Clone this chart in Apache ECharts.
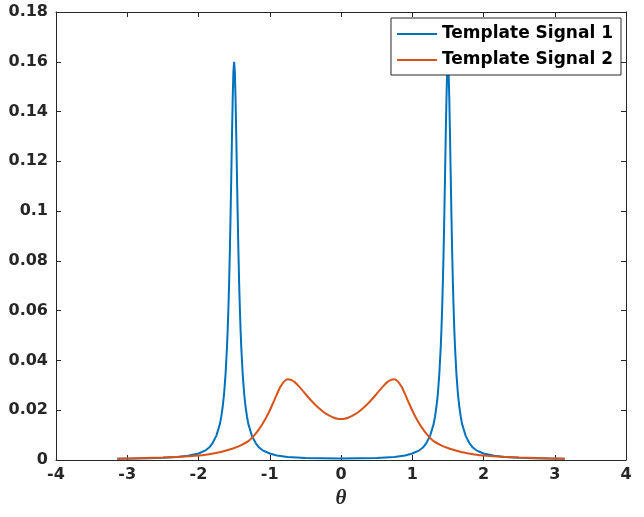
<!DOCTYPE html>
<html>
<head>
<meta charset="utf-8">
<script src="https://cdn.jsdelivr.net/npm/echarts@6/dist/echarts.min.js"></script>
<style>html,body{margin:0;padding:0;background:#fff}#c{width:644px;height:517px}</style>
</head>
<body>
<div id="c"></div>
<script>
var seriesNames = ['Template Signal 1', 'Template Signal 2'];
var xTicks = [-4, -3, -2, -1, 0, 1, 2, 3, 4];
var yTickLabels = ['0', '0.02', '0.04', '0.06', '0.08', '0.1', '0.12', '0.14', '0.16', '0.18'];

var blueX = [-3.14,-2.9,-2.7,-2.5,-2.3,-2.15,-2.0,-1.9,-1.85,-1.8,-1.75,-1.7,-1.68,-1.66,-1.64,-1.62,-1.6,-1.59,-1.58,-1.57,-1.56,-1.55,-1.54,-1.53,-1.52,-1.51,-1.5,-1.49,-1.48,-1.47,-1.46,-1.45,-1.44,-1.43,-1.42,-1.41,-1.4,-1.38,-1.36,-1.34,-1.32,-1.3,-1.25,-1.2,-1.15,-1.1,-1.0,-0.9,-0.75,-0.5,-0.25,0,
  0.25,0.5,0.75,0.9,1.0,1.1,1.15,1.2,1.25,1.3,1.32,1.34,1.36,1.38,1.4,1.41,1.42,1.43,1.44,1.45,1.46,1.47,1.48,1.49,1.5,1.51,1.52,1.53,1.54,1.55,1.56,1.57,1.58,1.59,1.6,1.62,1.64,1.66,1.68,1.7,1.75,1.8,1.85,1.9,2.0,2.15,2.3,2.5,2.7,2.9,3.14];
var blueY = [0.0005,0.0006,0.0007,0.0009,0.0012,0.0017,0.0026,0.0039,0.0050,0.0069,0.0097,0.0144,0.0175,0.0215,0.0269,0.0346,0.0455,0.0526,0.0613,0.0716,0.0839,0.0982,0.1140,0.1304,0.1452,0.1561,0.1600,0.1561,0.1452,0.1304,0.1140,0.0982,0.0839,0.0716,0.0613,0.0526,0.0455,0.0346,0.0269,0.0215,0.0175,0.0144,0.0097,0.0069,0.0050,0.0039,0.0026,0.0018,0.0012,0.0008,0.0007,0.0006,
  0.0007,0.0008,0.0012,0.0018,0.0026,0.0039,0.0050,0.0069,0.0097,0.0144,0.0175,0.0215,0.0269,0.0346,0.0455,0.0526,0.0613,0.0716,0.0839,0.0982,0.1140,0.1304,0.1452,0.1561,0.1600,0.1561,0.1452,0.1304,0.1140,0.0982,0.0839,0.0716,0.0613,0.0526,0.0455,0.0346,0.0269,0.0215,0.0175,0.0144,0.0097,0.0069,0.0050,0.0039,0.0026,0.0017,0.0012,0.0009,0.0007,0.0006,0.0005];

var orangeX = [-3.14,-3.0,-2.75,-2.5,-2.25,-2.0,-1.9,-1.8,-1.7,-1.6,-1.5,-1.4,-1.3,-1.25,-1.2,-1.15,-1.1,-1.05,-1.0,-0.95,-0.9,-0.85,-0.8,-0.75,-0.7,-0.65,-0.6,-0.55,-0.5,-0.45,-0.4,-0.35,-0.3,-0.25,-0.2,-0.15,-0.1,-0.05,0,
  0.05,0.1,0.15,0.2,0.25,0.3,0.35,0.4,0.45,0.5,0.55,0.6,0.65,0.7,0.75,0.8,0.85,0.9,0.95,1.0,1.05,1.1,1.15,1.2,1.25,1.3,1.4,1.5,1.6,1.7,1.8,1.9,2.0,2.25,2.5,2.75,3.0,3.14];
var orangeY = [0.0005,0.0006,0.0008,0.0010,0.0013,0.0018,0.0021,0.0026,0.0031,0.0039,0.0048,0.0060,0.0076,0.0089,0.0105,0.0124,0.0146,0.0171,0.0199,0.0231,0.0264,0.0294,0.0315,0.0324,0.0322,0.0313,0.0299,0.0283,0.0266,0.0249,0.0233,0.0219,0.0206,0.0194,0.0184,0.0176,0.0170,0.0166,0.0165,
  0.0166,0.0170,0.0176,0.0184,0.0194,0.0206,0.0219,0.0233,0.0249,0.0266,0.0283,0.0299,0.0313,0.0322,0.0324,0.0315,0.0294,0.0264,0.0231,0.0199,0.0171,0.0146,0.0124,0.0105,0.0089,0.0076,0.0060,0.0048,0.0039,0.0031,0.0026,0.0021,0.0018,0.0013,0.0010,0.0008,0.0006,0.0005];

function pairs(xs, ys) { return xs.map(function (x, i) { return [x, ys[i]]; }); }

var axisColor = '#262626';
var labelFont = { fontFamily: 'DejaVu Sans', fontWeight: 'bold', fontSize: 16, color: axisColor };

var chart = echarts.init(document.getElementById('c'), null, { renderer: 'canvas' });
chart.setOption({
  animation: false,
  backgroundColor: '#fff',
  grid: { left: 56, right: 18, top: 12, bottom: 57, containLabel: false },
  legend: {
    data: seriesNames,
    orient: 'vertical',
    right: 23, top: 18,
    backgroundColor: '#fff',
    borderColor: axisColor, borderWidth: 1, borderRadius: 0,
    padding: [5, 8, 4, 6],
    itemWidth: 40, itemHeight: 2, itemGap: 4,
    icon: 'rect',
    textStyle: { fontFamily: 'DejaVu Sans', fontWeight: 'bold', fontSize: 17, color: '#000', lineHeight: 22 }
  },
  xAxis: [{
    type: 'value', min: xTicks[0], max: xTicks[xTicks.length - 1], interval: 1,
    name: 'θ', nameLocation: 'middle', nameGap: 24,
    nameTextStyle: { fontFamily: 'Liberation Serif', fontStyle: 'italic', fontWeight: 'bold', fontSize: 21, color: axisColor },
    axisLine: { onZero: false, lineStyle: { color: axisColor, width: 1 } },
    axisTick: { inside: true, length: 5, lineStyle: { color: axisColor } },
    axisLabel: Object.assign({ margin: 7 }, labelFont),
    splitLine: { show: false }
  }, {
    type: 'value', position: 'top', min: xTicks[0], max: xTicks[xTicks.length - 1], interval: 1,
    axisLine: { show: true, onZero: false, lineStyle: { color: axisColor, width: 1 } },
    axisTick: { inside: true, length: 5, lineStyle: { color: axisColor } },
    axisLabel: { show: false }, splitLine: { show: false }
  }],
  yAxis: [{
    type: 'value', min: 0, max: 0.18, interval: 0.02,
    axisLine: { show: true, onZero: false, lineStyle: { color: axisColor, width: 1 } },
    axisTick: { show: true, inside: true, length: 5, lineStyle: { color: axisColor } },
    axisLabel: Object.assign({ margin: 8, formatter: function (v) { return yTickLabels[Math.round(v / 0.02)]; } }, labelFont),
    splitLine: { show: false }
  }, {
    type: 'value', position: 'right', min: 0, max: 0.18, interval: 0.02,
    axisLine: { show: true, onZero: false, lineStyle: { color: axisColor, width: 1 } },
    axisTick: { show: true, inside: true, length: 5, lineStyle: { color: axisColor } },
    axisLabel: { show: false }, splitLine: { show: false }
  }],
  series: [{
    name: seriesNames[0], type: 'line', xAxisIndex: 0, yAxisIndex: 0,
    data: pairs(blueX, blueY), showSymbol: false, symbol: 'none',
    lineStyle: { color: '#0072BD', width: 2 }, itemStyle: { color: '#0072BD' }
  }, {
    name: seriesNames[1], type: 'line', xAxisIndex: 0, yAxisIndex: 0,
    data: pairs(orangeX, orangeY), showSymbol: false, symbol: 'none', smooth: 0.25,
    lineStyle: { color: '#D95319', width: 2 }, itemStyle: { color: '#D95319' }
  }]
});
</script>
</body>
</html>
